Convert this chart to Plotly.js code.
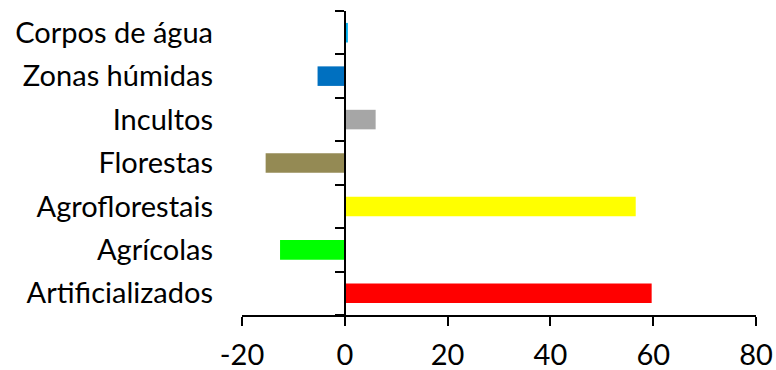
<!DOCTYPE html>
<html>
<head>
<meta charset="utf-8">
<script src="https://cdn.plot.ly/plotly-3.0.1.min.js"></script>
<style>html,body{margin:0;padding:0;background:#fff;}#chart{width:776px;height:370px;}</style>
</head>
<body>
<div id="chart"></div>
<script>
const categories = ["Artificializados", "Agrícolas", "Agroflorestais", "Florestas", "Incultos", "Zonas húmidas", "Corpos de água"];
const values = [59.7, -12.6, 56.6, -15.4, 6.0, -5.3, 0.6];
const barColors = ["#FF0000", "#00FF00", "#FFFF00", "#948A54", "#A6A6A6", "#0070C0", "#00B0F0"];
const xTicks = [-20, 0, 20, 40, 60, 80];
const xRange = [-20, 80];

const FONT = "Lato, 'Open Sans', sans-serif";
const zeroPos = (0 - xRange[0]) / (xRange[1] - xRange[0]);
const boundaries = categories.map((c, i) => i - 0.5).concat([categories.length - 0.5]);

const trace = {
  type: "bar",
  orientation: "h",
  x: values,
  y: categories,
  marker: {color: barColors, line: {width: 0}},
  hoverinfo: "x+y"
};

// empty helper trace so the zero-positioned category axis (line + boundary ticks) is drawn
const axisHelper = {
  type: "scatter", mode: "markers",
  x: [], y: [],
  xaxis: "x", yaxis: "y2",
  hoverinfo: "skip", showlegend: false
};

const layout = {
  width: 776, height: 370,
  margin: {l: 242, r: 20, t: 11, b: 55, pad: 0},
  paper_bgcolor: "#fff", plot_bgcolor: "#fff",
  showlegend: false,
  bargap: 0.55,
  font: {family: FONT, size: 29, color: "#000"},
  xaxis: {
    range: xRange, tickvals: xTicks, ticktext: xTicks.map(String),
    showgrid: false, zeroline: false,
    showline: true, linecolor: "#000", linewidth: 2,
    ticks: "outside", ticklen: 9, tickwidth: 2, tickcolor: "#000",
    ticklabelstandoff: 4,
    tickfont: {family: FONT, size: 29, color: "#000"},
    automargin: false
  },
  yaxis: {
    type: "category", categoryorder: "array", categoryarray: categories,
    range: [-0.5, categories.length - 0.5],
    showgrid: false, zeroline: false, showline: false,
    ticks: "", ticklabelstandoff: 28,
    tickfont: {family: FONT, size: 29, color: "#000"},
    automargin: false
  },
  yaxis2: {
    overlaying: "y", anchor: "free", position: zeroPos, side: "left",
    type: "linear", autorange: false,
    range: [-0.5, categories.length - 0.5],
    tickmode: "array", tickvals: boundaries, showticklabels: false,
    showgrid: false, zeroline: false,
    showline: true, linecolor: "#000", linewidth: 2,
    ticks: "outside", ticklen: 9, tickwidth: 2, tickcolor: "#000",
    automargin: false
  }
};

Plotly.newPlot("chart", [trace, axisHelper], layout, {displayModeBar: false, staticPlot: true});
</script>
</body>
</html>
